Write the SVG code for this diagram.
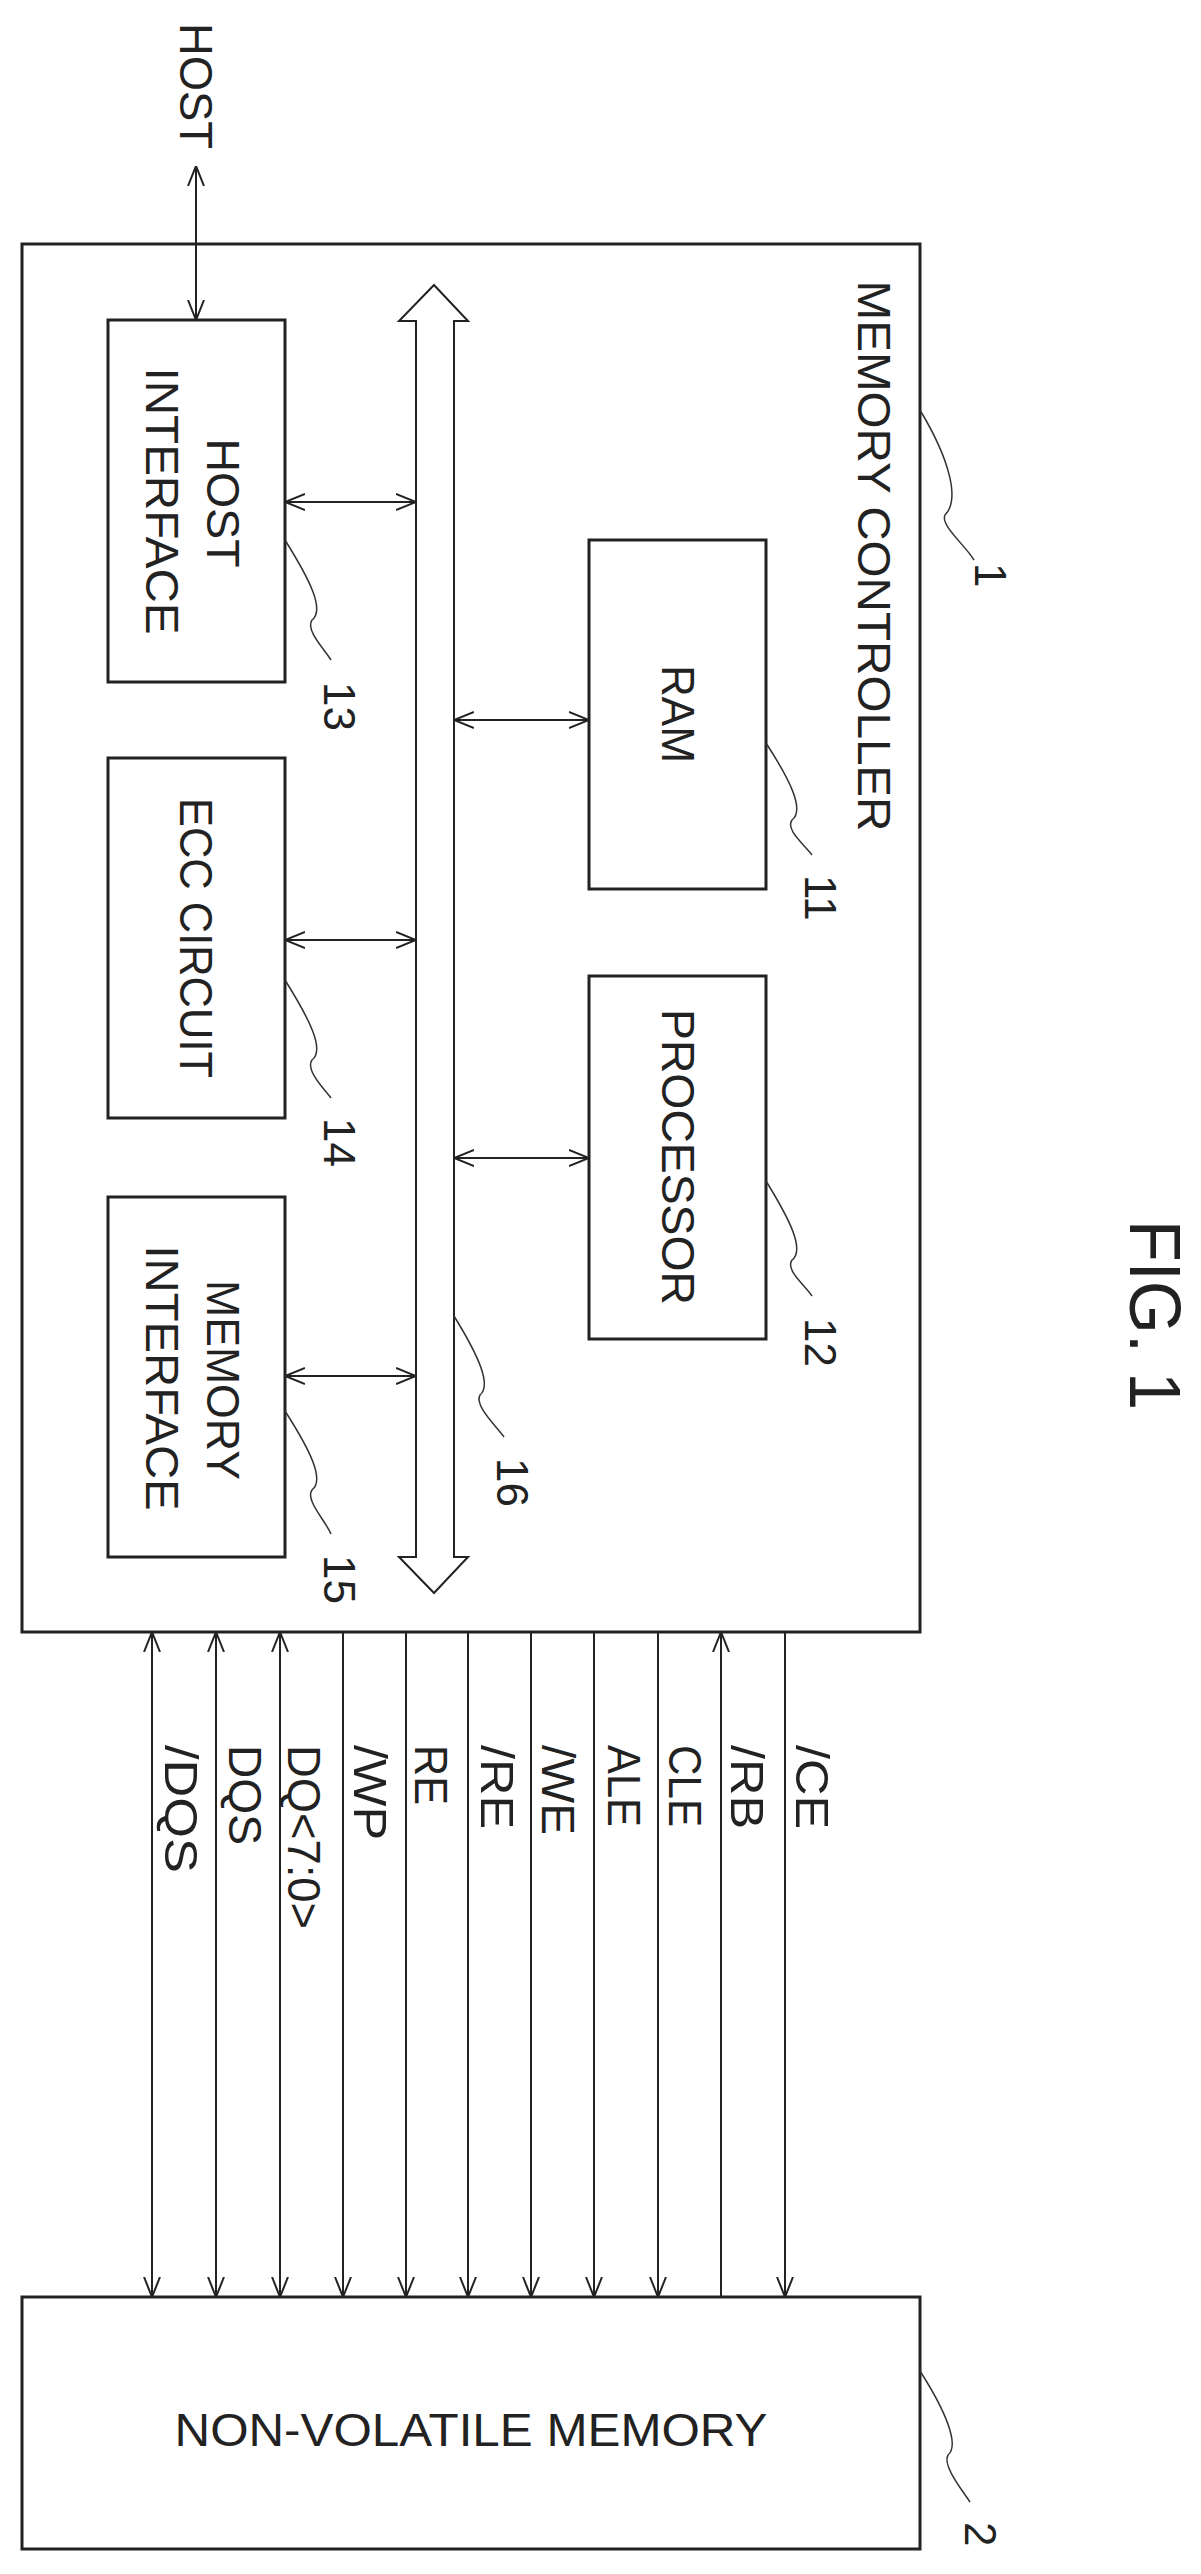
<svg xmlns="http://www.w3.org/2000/svg" width="1201" height="2574" viewBox="0 0 1201 2574">
<style>
.b{fill:none;stroke:#222;stroke-width:3}
.l{fill:none;stroke:#222;stroke-width:2}
.d{fill:none;stroke:#333;stroke-width:1.5}
text{font-family:"Liberation Sans",Arial,sans-serif;font-size:46px;fill:#222;dominant-baseline:central}
.n{font-size:44px}
</style>
<defs>
<marker id="a" viewBox="0 0 20 20" refX="20" refY="10" markerWidth="20" markerHeight="20" markerUnits="userSpaceOnUse" orient="auto-start-reverse">
<path d="M0,2 L20,10 L0,18" fill="none" stroke="#222" stroke-width="2"/>
</marker>
</defs>
<rect width="1201" height="2574" fill="#fff"/>
<g id="controller">
<rect class="b" x="22" y="244" width="898" height="1388"/>
<text transform="translate(874,556) rotate(90)" text-anchor="middle" textLength="551" lengthAdjust="spacingAndGlyphs">MEMORY CONTROLLER</text>
<path class="d" d="M920,410 C950,460 960,500 945,515 C940,525 965,545 974,560"/>
<text class="n" transform="translate(990,563) rotate(90)" text-anchor="start">1</text>
</g>
<g id="host-interface">
<rect class="b" x="108" y="320" width="177" height="362"/>
<text transform="translate(223,503) rotate(90)" text-anchor="middle" textLength="129" lengthAdjust="spacingAndGlyphs">HOST</text>
<text transform="translate(162,501) rotate(90)" text-anchor="middle" textLength="267" lengthAdjust="spacingAndGlyphs">INTERFACE</text>
<path class="d" d="M285,540 C310,580 325,610 312,620 C305,630 325,650 331,660"/>
<text class="n" transform="translate(339,682) rotate(90)" text-anchor="start">13</text>
</g>
<g id="ecc">
<rect class="b" x="108" y="758" width="177" height="360"/>
<text transform="translate(196,938) rotate(90)" text-anchor="middle" textLength="280" lengthAdjust="spacingAndGlyphs">ECC CIRCUIT</text>
<path class="d" d="M285,980 C310,1020 325,1050 312,1060 C305,1070 325,1090 331,1098"/>
<text class="n" transform="translate(339,1118) rotate(90)" text-anchor="start">14</text>
</g>
<g id="memory-interface">
<rect class="b" x="108" y="1197" width="177" height="360"/>
<text transform="translate(223,1380) rotate(90)" text-anchor="middle" textLength="200" lengthAdjust="spacingAndGlyphs">MEMORY</text>
<text transform="translate(162,1378) rotate(90)" text-anchor="middle" textLength="265" lengthAdjust="spacingAndGlyphs">INTERFACE</text>
<path class="d" d="M285,1411 C310,1450 325,1480 312,1490 C305,1500 325,1520 331,1534"/>
<text class="n" transform="translate(339,1555) rotate(90)" text-anchor="start">15</text>
</g>
<g id="ram">
<rect class="b" x="589" y="540" width="177" height="349"/>
<text transform="translate(678,714) rotate(90)" text-anchor="middle" textLength="98" lengthAdjust="spacingAndGlyphs">RAM</text>
<path class="d" d="M766,743 C790,780 805,810 792,820 C785,830 805,845 812,855"/>
<text class="n" transform="translate(820,875) rotate(90)" text-anchor="start">11</text>
</g>
<g id="processor">
<rect class="b" x="589" y="976" width="177" height="363"/>
<text transform="translate(678,1157) rotate(90)" text-anchor="middle" textLength="296" lengthAdjust="spacingAndGlyphs">PROCESSOR</text>
<path class="d" d="M766,1181 C790,1220 805,1250 792,1260 C785,1270 805,1285 812,1296"/>
<text class="n" transform="translate(820,1318) rotate(90)" text-anchor="start">12</text>
</g>
<g id="bus">
<path class="l" d="M416,321 L399,321 L434,285 L468,321 L454,321 L454,1557 L468,1557 L434,1593 L399,1557 L416,1557 Z"/>
<path class="d" d="M454,1316 C478,1355 492,1385 480,1395 C474,1405 495,1425 504,1437"/>
<text class="n" transform="translate(512,1458) rotate(90)" text-anchor="start">16</text>
</g>
<g id="nvm">
<rect class="b" x="22" y="2297" width="898" height="252"/>
<text x="471" y="2430" text-anchor="middle" textLength="593" lengthAdjust="spacingAndGlyphs">NON-VOLATILE MEMORY</text>
<path class="d" d="M920,2371 C945,2410 960,2445 948,2455 C942,2465 962,2490 970,2502"/>
<text class="n" transform="translate(980,2522) rotate(90)" text-anchor="start">2</text>
</g>
<g id="host">
<text transform="translate(196,23) rotate(90)" text-anchor="start" textLength="126" lengthAdjust="spacingAndGlyphs">HOST</text>
</g>
<g id="fig">
<text transform="translate(1155,1220) rotate(90)" text-anchor="start" style="font-size:72px" textLength="190" lengthAdjust="spacingAndGlyphs">FIG. 1</text>
</g>
<g id="connectors">
<line class="l" x1="196" y1="166" x2="196" y2="320" marker-start="url(#a)" marker-end="url(#a)"/>
<line class="l" x1="285" y1="502" x2="416" y2="502" marker-start="url(#a)" marker-end="url(#a)"/>
<line class="l" x1="285" y1="940" x2="416" y2="940" marker-start="url(#a)" marker-end="url(#a)"/>
<line class="l" x1="285" y1="1376" x2="416" y2="1376" marker-start="url(#a)" marker-end="url(#a)"/>
<line class="l" x1="454" y1="720" x2="589" y2="720" marker-start="url(#a)" marker-end="url(#a)"/>
<line class="l" x1="454" y1="1158" x2="589" y2="1158" marker-start="url(#a)" marker-end="url(#a)"/>
<line class="l" x1="152" y1="1632" x2="152" y2="2297" marker-start="url(#a)" marker-end="url(#a)"/>
<line class="l" x1="216" y1="1632" x2="216" y2="2297" marker-start="url(#a)" marker-end="url(#a)"/>
<line class="l" x1="280" y1="1632" x2="280" y2="2297" marker-start="url(#a)" marker-end="url(#a)"/>
<line class="l" x1="343" y1="1632" x2="343" y2="2297" marker-end="url(#a)"/>
<line class="l" x1="406" y1="1632" x2="406" y2="2297" marker-end="url(#a)"/>
<line class="l" x1="468" y1="1632" x2="468" y2="2297" marker-end="url(#a)"/>
<line class="l" x1="531" y1="1632" x2="531" y2="2297" marker-end="url(#a)"/>
<line class="l" x1="594" y1="1632" x2="594" y2="2297" marker-end="url(#a)"/>
<line class="l" x1="658" y1="1632" x2="658" y2="2297" marker-end="url(#a)"/>
<line class="l" x1="721" y1="2297" x2="721" y2="1632" marker-end="url(#a)"/>
<line class="l" x1="785" y1="1632" x2="785" y2="2297" marker-end="url(#a)"/>
</g>
<g id="signal-labels">
<text transform="translate(181,1745) rotate(90)" textLength="128" lengthAdjust="spacingAndGlyphs">/DQS</text>
<text transform="translate(245,1745) rotate(90)" textLength="100" lengthAdjust="spacingAndGlyphs">DQS</text>
<text transform="translate(304,1745) rotate(90)" textLength="184" lengthAdjust="spacingAndGlyphs">DQ&lt;7:0&gt;</text>
<text transform="translate(370,1745) rotate(90)" textLength="95" lengthAdjust="spacingAndGlyphs">/WP</text>
<text transform="translate(431,1745) rotate(90)" textLength="60" lengthAdjust="spacingAndGlyphs">RE</text>
<text transform="translate(497,1745) rotate(90)" textLength="84" lengthAdjust="spacingAndGlyphs">/RE</text>
<text transform="translate(558,1745) rotate(90)" textLength="90" lengthAdjust="spacingAndGlyphs">/WE</text>
<text transform="translate(624,1745) rotate(90)" textLength="82" lengthAdjust="spacingAndGlyphs">ALE</text>
<text transform="translate(685,1745) rotate(90)" textLength="82" lengthAdjust="spacingAndGlyphs">CLE</text>
<text transform="translate(747,1745) rotate(90)" textLength="84" lengthAdjust="spacingAndGlyphs">/RB</text>
<text transform="translate(812,1745) rotate(90)" textLength="84" lengthAdjust="spacingAndGlyphs">/CE</text>
</g>
</svg>
